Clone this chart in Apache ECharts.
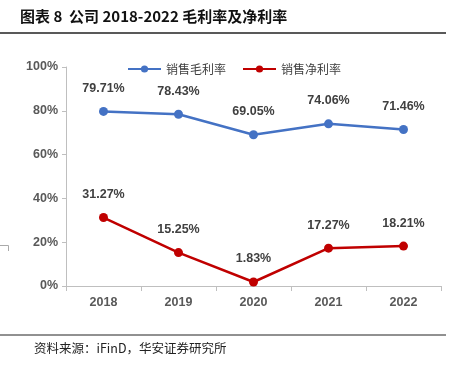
<!DOCTYPE html>
<html><head><meta charset="utf-8">
<script src="https://cdn.jsdelivr.net/npm/echarts@6/dist/echarts.min.js"></script>
<style>html,body{margin:0;padding:0;background:#fff}#c{width:450px;height:372px}</style>
</head><body><div id="c"></div>
<script>
const categories = ['2018', '2019', '2020', '2021', '2022'];
const grossMargin = [79.71, 78.43, 69.05, 74.06, 71.46];
const netMargin = [31.27, 15.25, 1.83, 17.27, 18.21];
const seriesNames = ['销售毛利率', '销售净利率'];
const titleText = '图表 8  公司 2018-2022 毛利率及净利率';
const sourceText = '资料来源：iFinD，华安证券研究所';

const chart = echarts.init(document.getElementById('c'), null, {renderer: 'canvas'});
const labelStyle = {show: true, position: 'top', distance: 12, formatter: p => p.value.toFixed(2) + '%',
  color: '#404040', fontSize: 12.5, fontWeight: 'bold', fontFamily: 'Liberation Sans, Arial, sans-serif'};
chart.setOption({
  animation: false,
  backgroundColor: '#fff',
  grid: {left: 66, right: 9, top: 67, bottom: 86},
  legend: {
    left: 122, top: 58, itemWidth: 33, itemHeight: 9, itemGap: 16,
    textStyle: {fontSize: 12, color: '#404040', fontFamily: 'Noto Sans CJK SC'},
    data: seriesNames
  },
  xAxis: {
    type: 'category', data: categories, boundaryGap: true,
    axisLine: {lineStyle: {color: '#bfbfbf', width: 1}},
    axisTick: {show: true, length: 5, lineStyle: {color: '#bfbfbf'}},
    axisLabel: {color: '#595959', fontSize: 12.5, fontWeight: 'bold', margin: 10, fontFamily: 'Liberation Sans, Arial, sans-serif'}
  },
  yAxis: {
    type: 'value', min: 0, max: 100, interval: 20,
    axisLine: {show: true, lineStyle: {color: '#bfbfbf', width: 1}},
    axisTick: {show: true, length: 4, lineStyle: {color: '#bfbfbf'}},
    splitLine: {show: false},
    axisLabel: {formatter: '{value}%', color: '#595959', fontSize: 12.5, fontWeight: 'bold', margin: 8, fontFamily: 'Liberation Sans, Arial, sans-serif'}
  },
  series: [
    {name: seriesNames[0], type: 'line', data: grossMargin, symbol: 'circle', symbolSize: 9,
     itemStyle: {color: '#4472C4'}, lineStyle: {width: 2.5, color: '#4472C4'}, label: labelStyle},
    {name: seriesNames[1], type: 'line', data: netMargin, symbol: 'circle', symbolSize: 9,
     itemStyle: {color: '#C00000'}, lineStyle: {width: 2.5, color: '#C00000'}, label: labelStyle}
  ],
  graphic: [
    {type: 'text', left: 20, top: 9, style: {text: titleText, fontSize: 15, fontWeight: 'bold', fill: '#111', fontFamily: 'Noto Sans CJK SC'}},
    {type: 'line', shape: {x1: 0, y1: 33, x2: 446, y2: 33}, style: {stroke: '#222', lineWidth: 1.5}},
    {type: 'line', shape: {x1: 0, y1: 335, x2: 446, y2: 335}, style: {stroke: '#222', lineWidth: 1}},
    {type: 'text', left: 34, top: 342, style: {text: sourceText, fontSize: 12.5, fill: '#222', fontFamily: 'Noto Sans CJK SC'}},
    {type: 'polyline', shape: {points: [[0, 245.5], [8.5, 245.5], [8.5, 251]]}, style: {stroke: '#aaa', lineWidth: 1, fill: null}}
  ]
});
</script></body></html>
